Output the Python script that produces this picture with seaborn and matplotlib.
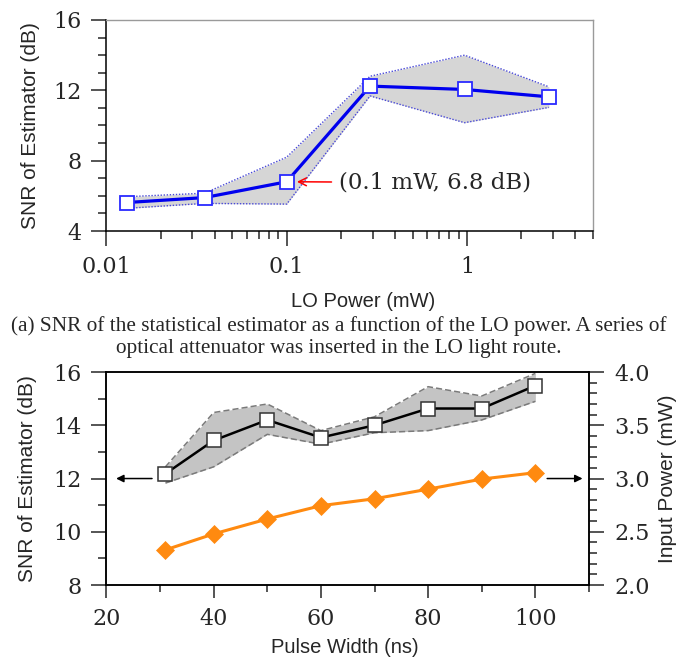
import matplotlib
matplotlib.use('Agg')
import matplotlib.pyplot as plt
import numpy as np
import seaborn as sns
from matplotlib.ticker import MultipleLocator, FixedLocator, FixedFormatter, LogLocator, NullFormatter, FormatStrFormatter

# (a) SNR vs LO power
lo_power = [0.013, 0.035, 0.1, 0.29, 0.97, 2.85]
snr_lo = [5.62, 5.9, 6.8, 12.24, 12.05, 11.63]
snr_lo_upper = [5.95, 6.15, 8.2, 12.8, 14.0, 12.2]
snr_lo_lower = [5.29, 5.57, 5.53, 11.68, 10.16, 11.03]

# (b) SNR and input power vs pulse width
pulse_width = [31, 40, 50, 60, 70, 80, 90, 100]
snr_pw = [12.18, 13.43, 14.2, 13.54, 14.0, 14.63, 14.63, 15.49]
snr_pw_upper = [12.44, 14.48, 14.8, 13.8, 14.32, 15.45, 15.1, 15.95]
snr_pw_lower = [11.83, 12.44, 13.66, 13.29, 13.72, 13.8, 14.2, 14.9]
input_power = [2.33, 2.48, 2.62, 2.745, 2.81, 2.90, 2.995, 3.055]

caption_1 = "(a) SNR of the statistical estimator as a function of the LO power. A series of"
caption_2 = "optical attenuator was inserted in the LO light route."

sns.set_style("ticks")
plt.rcParams['font.family'] = ['DejaVu Serif']
xlabel_font = dict(family='Liberation Sans', size=14.5)
ylabel_font = dict(family='Liberation Sans', size=15)

fig = plt.figure(figsize=(6.78, 6.6), dpi=100)
fig.patch.set_facecolor('white')

# ---------- top panel ----------
ax1 = fig.add_axes([0.157, 0.65, 0.7175, 0.3197])
ax1.fill_between(lo_power, snr_lo_lower, snr_lo_upper, color='#d6d6d6', lw=0, zorder=1)
sns.lineplot(x=lo_power, y=snr_lo_upper, ax=ax1, color='#4a4ad8', lw=1.0, linestyle=(0, (1, 1.2)), zorder=2)
sns.lineplot(x=lo_power, y=snr_lo_lower, ax=ax1, color='#4a4ad8', lw=1.0, linestyle=(0, (1, 1.2)), zorder=2)
sns.lineplot(x=lo_power, y=snr_lo, ax=ax1, color='#0000ee', lw=2.3, marker='s', markersize=9.5,
             markerfacecolor='white', markeredgecolor='#2a2aff', markeredgewidth=1.3, zorder=4)

ax1.set_xscale('log')
ax1.set_xlim(0.01, 5)
ax1.set_ylim(4, 16)
ax1.xaxis.set_major_locator(FixedLocator([0.01, 0.1, 1]))
ax1.xaxis.set_major_formatter(FixedFormatter(['0.01', '0.1', '1']))
ax1.xaxis.set_minor_locator(LogLocator(base=10, subs=np.arange(2, 10)))
ax1.xaxis.set_minor_formatter(NullFormatter())
ax1.yaxis.set_major_locator(MultipleLocator(4))
ax1.yaxis.set_minor_locator(MultipleLocator(1))
ax1.tick_params(axis='x', which='major', direction='out', length=11, width=1.1, pad=7)
ax1.tick_params(axis='x', which='minor', direction='out', length=5.5, width=1.1)
ax1.tick_params(axis='y', which='major', direction='out', length=11, width=1.1, pad=7)
ax1.tick_params(axis='y', which='minor', direction='out', length=5.5, width=1.1)
for lab in ax1.get_xticklabels() + ax1.get_yticklabels():
    lab.set_fontfamily('DejaVu Serif')
    lab.set_fontsize(16)
for s in ['left', 'bottom']:
    ax1.spines[s].set_color('black')
    ax1.spines[s].set_linewidth(1.1)
for s in ['top', 'right']:
    ax1.spines[s].set_visible(True)
    ax1.spines[s].set_color('#9a9a9a')
    ax1.spines[s].set_linewidth(1.0)

ax1.set_xlabel('LO Power (mW)', **xlabel_font)
ax1.set_ylabel('SNR of Estimator (dB)', **ylabel_font)
ax1.xaxis.set_label_coords(0.528, -0.29)
ax1.yaxis.set_label_coords(-0.137, 0.5)

ax1.annotate('(0.1 mW, 6.8 dB)', xy=(0.114, 6.8), xytext=(0.195, 6.75),
             ha='left', va='center', fontsize=16.5, family='DejaVu Serif',
             arrowprops=dict(arrowstyle='->', color='red', lw=1.1, shrinkA=3, shrinkB=0,
                             mutation_scale=14))

# ---------- caption ----------
fig.text(0.5, 1 - 326 / 660, caption_1, ha='center', va='center', family='Liberation Serif', fontsize=15.3)
fig.text(0.5, 1 - 349 / 660, caption_2, ha='center', va='center', family='Liberation Serif', fontsize=15.3)

# ---------- bottom panel ----------
ax2 = fig.add_axes([0.157, 0.1136, 0.7117, 0.3227])
ax3 = ax2.twinx()

ax2.fill_between(pulse_width, snr_pw_lower, snr_pw_upper, color='#c4c4c4', lw=0, zorder=1)
sns.lineplot(x=pulse_width, y=snr_pw_upper, ax=ax2, color='#7a7a7a', lw=1.1, linestyle=(0, (4, 2)), zorder=2)
sns.lineplot(x=pulse_width, y=snr_pw_lower, ax=ax2, color='#7a7a7a', lw=1.1, linestyle=(0, (4, 2)), zorder=2)
sns.lineplot(x=pulse_width, y=snr_pw, ax=ax2, color='black', lw=1.8, marker='s', markersize=9.5,
             markerfacecolor='white', markeredgecolor='#333333', markeredgewidth=1.1, zorder=4)

sns.lineplot(x=pulse_width, y=input_power, ax=ax3, color='#ff8a10', lw=2.2, marker='D', markersize=9.5,
             markerfacecolor='#ff8a10', markeredgecolor='#ff8a10', markeredgewidth=0.5, zorder=4)

ax2.set_xlim(20, 110)
ax2.set_ylim(8, 16)
ax3.set_ylim(2.0, 4.0)
ax2.xaxis.set_major_locator(MultipleLocator(20))
ax2.xaxis.set_minor_locator(FixedLocator([30, 50, 70, 90, 110]))
ax2.yaxis.set_major_locator(MultipleLocator(2))
ax2.yaxis.set_minor_locator(MultipleLocator(1))
ax3.yaxis.set_major_locator(MultipleLocator(0.5))
ax3.yaxis.set_minor_locator(MultipleLocator(0.1))
ax3.yaxis.set_major_formatter(FormatStrFormatter('%.1f'))

ax2.tick_params(axis='x', which='major', direction='out', length=9.5, width=1.1, pad=7)
ax2.tick_params(axis='x', which='minor', direction='out', length=5, width=1.1)
ax2.tick_params(axis='y', which='major', direction='out', length=11, width=1.1, pad=7)
ax2.tick_params(axis='y', which='minor', direction='out', length=5.5, width=1.1)
ax3.tick_params(axis='y', which='major', direction='out', length=11, width=1.1, pad=7)
ax3.tick_params(axis='y', which='minor', direction='out', length=5.5, width=1.1)
for lab in ax2.get_xticklabels() + ax2.get_yticklabels() + ax3.get_yticklabels():
    lab.set_fontfamily('DejaVu Serif')
    lab.set_fontsize(16)
for ax in (ax2, ax3):
    for s in ax.spines.values():
        s.set_visible(True)
        s.set_color('black')
        s.set_linewidth(1.1)

ax2.set_xlabel('Pulse Width (ns)', **xlabel_font)
ax2.set_ylabel('SNR of Estimator (dB)', **ylabel_font)
ax3.set_ylabel('Input Power (mW)', **ylabel_font)
ax2.xaxis.set_label_coords(0.494, -0.249)
ax2.yaxis.set_label_coords(-0.144, 0.5)
ax3.yaxis.set_label_coords(1.143, 0.5)

ax2.annotate('', xy=(21.8, 12), xytext=(28.5, 12),
             arrowprops=dict(arrowstyle='-|>', color='black', lw=1.1, mutation_scale=11,
                             shrinkA=0, shrinkB=0))
ax3.annotate('', xy=(108.8, 3.0), xytext=(102.2, 3.0),
             arrowprops=dict(arrowstyle='-|>', color='black', lw=1.1, mutation_scale=11,
                             shrinkA=0, shrinkB=0))

fig.savefig('out.png', dpi=100, facecolor='white')
plt.close(fig)
